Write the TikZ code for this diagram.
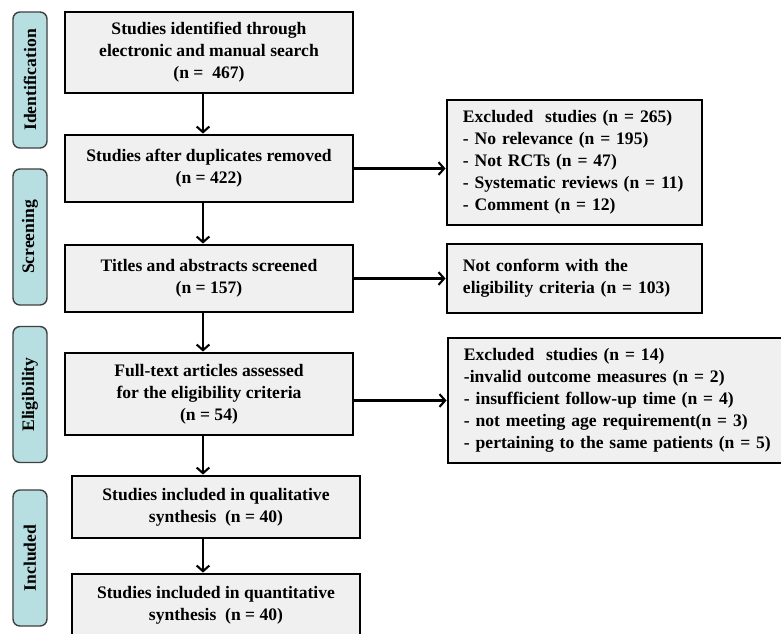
\documentclass[tikz,border=0pt]{standalone}
\usepackage{fontspec}
\setmainfont{Liberation Serif}
\usetikzlibrary{arrows.meta}
\definecolor{phaseteal}{HTML}{B7DFE2}
\definecolor{boxgray}{HTML}{F0F0F0}
\begin{document}
\begin{tikzpicture}[x=0.025cm,y=-0.025cm,
    txt/.style={font=\fontsize{12.5}{15.6}\selectfont\bfseries},
    flowbox/.style={txt,draw,line width=2pt,fill=boxgray,inner sep=0pt,align=center,minimum width=7.2cm},
    exclbox/.style={txt,draw,line width=2pt,fill=boxgray,inner xsep=0.4cm,inner ysep=0pt,align=left},
    phase/.style={txt,draw=black!75,line width=1pt,fill=phaseteal,rounded corners=5pt,rotate=90,
      minimum width=3.4cm,minimum height=0.85cm,inner sep=0pt},
    arr/.style={line width=1.5pt,-{Straight Barb[length=4pt,width=9pt,line width=1.5pt]}}]
  \path[use as bounding box,clip] (0,0) rectangle (781,633);
  \foreach \name/\y/\lbl in {ident/80/Identification,screen/237/Screening,elig/394.5/Eligibility,incl/558/Included}
    \node[phase] (\name) at (30,\y) {\lbl};
  \coordinate (spine) at (203,0);
  \node[flowbox,minimum height=2.025cm] (found) at (209,52.5)
    {Studies identified through\\electronic and manual search\\(n =\ \ 467)};
  \node[flowbox,minimum height=1.675cm] (dedup) at (209,168.5)
    {Studies after duplicates removed\\(n = 422)};
  \node[flowbox,minimum height=1.675cm] (titles) at (209,278.5)
    {Titles and abstracts screened\\(n = 157)};
  \node[flowbox,minimum height=2.05cm] (fulltext) at (209,394)
    {Full-text articles assessed\\for the eligibility criteria\\(n = 54)};
  \node[flowbox,minimum height=1.55cm] (qual) at (216,507)
    {Studies included in qualitative\\synthesis\ \ (n = 40)};
  \node[flowbox,minimum height=1.55cm] (quant) at (216,605)
    {Studies included in quantitative\\synthesis\ \ (n = 40)};
  \node[exclbox,text width=5.575cm,minimum height=3.125cm] (excl1) at (574.5,162.5)
    {Excluded\ \ studies (n = 265)\\- No relevance (n = 195)\\- Not RCTs (n = 47)\\- Systematic reviews (n = 11)\\- Comment (n = 12)};
  \node[exclbox,text width=5.575cm,minimum height=1.725cm] (nonconf) at (574.5,278.5)
    {Not conform with the\\eligibility criteria (n = 103)};
  \node[exclbox,text width=7.75cm,minimum height=3.125cm] (excl2) at (619,400.5)
    {Excluded\ \ studies (n = 14)\\-invalid outcome measures (n = 2)\\- insufficient follow-up time (n = 4)\\- not meeting age requirement(n = 3)\\- pertaining to the same patients (n = 5)};
  \draw[arr] (found.south -| spine) -- (dedup.north -| spine);
  \draw[arr] (dedup.south -| spine) -- (titles.north -| spine);
  \draw[arr] (titles.south -| spine) -- (fulltext.north -| spine);
  \draw[arr] (fulltext.south -| spine) -- (qual.north -| spine);
  \draw[arr] (qual.south -| spine) -- (quant.north -| spine);
  \draw[arr] (dedup.east) -- (dedup.east -| excl1.west);
  \draw[arr] (titles.east) -- (nonconf.west);
  \draw[arr] (fulltext.east |- excl2.west) -- (excl2.west);
\end{tikzpicture}
\end{document}
